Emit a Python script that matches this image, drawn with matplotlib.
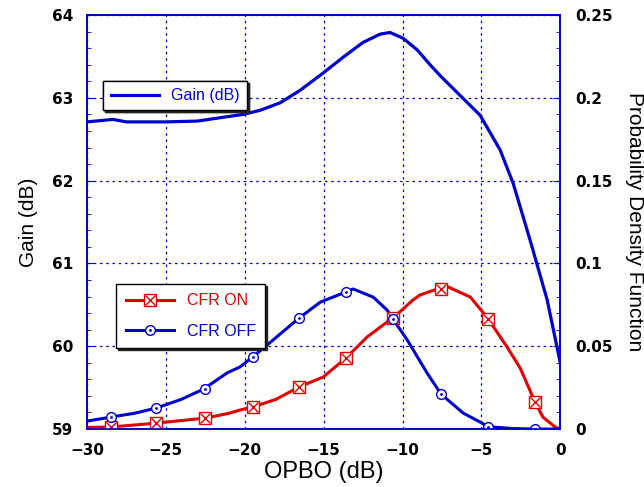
import numpy as np
import matplotlib
matplotlib.use("Agg")
import matplotlib.pyplot as plt
from matplotlib.lines import Line2D
from matplotlib.ticker import MultipleLocator

plt.rcParams['font.family'] = ['Liberation Sans', 'DejaVu Sans']

# Gain (dB) vs OPBO (dB) - eje izquierdo
gain_x = [-30, -28.35, -27.5, -25, -23.0, -21.57, -20.1, -19.03, -17.76, -16.5, -15.03,
          -13.77, -12.5, -11.42, -10.79, -9.96, -9.07, -8.25, -7.62, -6.35, -5.08,
          -3.81, -2.99, -1.91, -0.83, 0]
gain_y = [62.71, 62.74, 62.71, 62.71, 62.72, 62.76, 62.80, 62.85, 62.94, 63.09, 63.30,
          63.49, 63.67, 63.77, 63.79, 63.72, 63.58, 63.40, 63.27, 63.03, 62.79,
          62.37, 61.97, 61.28, 60.56, 59.80]

# Función de densidad de probabilidad - eje derecho (CFR OFF)
off_x = [-30, -28.5, -27, -25.6, -24, -22.6, -21.1, -20.3, -19.5, -18.2, -16.56, -15.2,
         -13.58, -13.13, -11.86, -10.98, -10.6, -9.7, -8.44, -7.55, -6.16, -5.08,
         -4.57, -3.0, -1.6, 0]
off_y = [0.0048, 0.0072, 0.0095, 0.0127, 0.018, 0.0242, 0.034, 0.0375, 0.0435, 0.0538,
         0.067, 0.0767, 0.0828, 0.0846, 0.0797, 0.0719, 0.0664, 0.0538, 0.0338, 0.021,
         0.0097, 0.0042, 0.0014, 0.0003, 0.0, 0.0]

# CFR ON
on_x = [-30, -28.5, -25.6, -22.5, -21, -20.3, -19.5, -18, -16.56, -15.03, -13.58,
        -12.24, -10.98, -10.6, -9.33, -8.88, -7.8, -7.1, -5.7, -4.65, -3.37, -2.54,
        -1.6, -1.1, -0.3, 0]
on_y = [0.001, 0.0012, 0.0036, 0.0066, 0.0095, 0.0115, 0.0133, 0.018, 0.0254, 0.0314,
        0.0429, 0.0556, 0.0646, 0.067, 0.078, 0.081, 0.0846, 0.0858, 0.0797, 0.0676,
        0.0495, 0.0368, 0.0163, 0.0072, 0.001, 0.0]

# Posiciones de los marcadores
mk_x = [-28.5, -25.6, -22.5, -19.5, -16.56, -13.58, -10.6, -7.55, -4.57, -1.6]
mk_off = [0.0072, 0.0127, 0.0242, 0.0435, 0.067, 0.0828, 0.0664, 0.021, 0.0014, 0.0]
mk_on = [0.0012, 0.0036, 0.0066, 0.0133, 0.0254, 0.0429, 0.067, 0.0846, 0.0664, 0.0163]

azul = '#0000CC'
rojo = '#E00000'

fig = plt.figure(figsize=(6.44, 4.87), dpi=100)
ax = fig.add_axes([0.135, 0.119, 0.735, 0.850])
ax2 = ax.twinx()

ax.plot(gain_x, gain_y, color=azul, lw=2.3, label='Gain (dB)')

ax2.plot(on_x, on_y, color=rojo, lw=2.2)
ax2.plot(off_x, off_y, color=azul, lw=2.2)
ax2.plot(mk_x, mk_on, ls='none', marker='s', ms=8.5, mfc='white', mec=rojo, mew=1.0)
ax2.plot(mk_x, mk_on, ls='none', marker='x', ms=7.5, mec=rojo, mew=1.0)
ax2.plot(mk_x, mk_off, ls='none', marker='o', ms=7, mfc='white', mec=azul, mew=1.0)
ax2.plot(mk_x, mk_off, ls='none', marker='.', ms=2, mec=azul, mfc=azul)

ax.set_xlim(-30, 0)
ax.set_ylim(59, 64)
ax2.set_ylim(0, 0.25)
ax.xaxis.set_major_locator(MultipleLocator(5))
ax.yaxis.set_major_locator(MultipleLocator(1))
ax.yaxis.set_minor_locator(MultipleLocator(0.2))
ax2.yaxis.set_minor_locator(MultipleLocator(0.01))
ax2.set_yticks([0, 0.05, 0.1, 0.15, 0.2, 0.25])
ax2.set_yticklabels(['0', '0.05', '0.1', '0.15', '0.2', '0.25'])

ax.grid(True, which='major', color=azul, ls=(0, (2, 3)), lw=0.9)
for a in (ax, ax2):
    for s in a.spines.values():
        s.set_color(azul)
        s.set_linewidth(1.2)
    a.tick_params(which='both', direction='in', color=azul, labelsize=11)
    a.tick_params(which='major', length=5)
    a.tick_params(which='minor', length=3)
ax.tick_params(axis='x', which='major', length=0, pad=10)
for lbl in ax.get_xticklabels() + ax.get_yticklabels() + ax2.get_yticklabels():
    lbl.set_fontweight('bold')
    lbl.set_fontfamily('DejaVu Sans')
ax.tick_params(axis='y', pad=10)
ax2.tick_params(axis='y', pad=11)

ax.set_xlabel('OPBO (dB)', fontsize=17, labelpad=2)
ax.set_ylabel('Gain (dB)', fontsize=15, labelpad=10)
ax2.set_ylabel('Probability Density Function', fontsize=15, rotation=270, labelpad=22)

sombra = {'color': '#222222', 'alpha': 1.0, 'ox': 1.2, 'oy': -1.2}

# Leyendas
leg1 = ax.legend(loc='upper left', bbox_to_anchor=(0.018, 0.86), frameon=True, fancybox=False,
                 shadow=sombra, edgecolor='black', fontsize=11.5, handlelength=3.0,
                 borderpad=0.45, framealpha=1)
for t in leg1.get_texts():
    t.set_color(azul)
ax.add_artist(leg1)

h_on = (Line2D([], [], color=rojo, lw=2.2, marker='s', ms=8.5, mfc='white', mec=rojo),
        Line2D([], [], ls='none', marker='x', ms=7.5, mec=rojo))
h_off = (Line2D([], [], color=azul, lw=2.2, marker='o', ms=7, mfc='white', mec=azul),
         Line2D([], [], ls='none', marker='.', ms=2, mec=azul, mfc=azul))
leg2 = ax2.legend([h_on, h_off], ['CFR ON', 'CFR OFF'], loc='upper left',
                  bbox_to_anchor=(0.045, 0.37), frameon=True, fancybox=False, shadow=sombra,
                  edgecolor='black', fontsize=11.5, handlelength=3.0, labelspacing=0.95,
                  borderpad=0.6, framealpha=1)
leg2.get_texts()[0].set_color(rojo)
leg2.get_texts()[1].set_color(azul)

fig.savefig('out.png', dpi=100)
